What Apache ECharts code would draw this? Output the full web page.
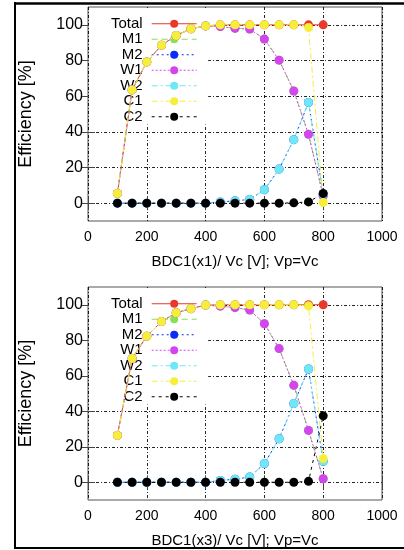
<!DOCTYPE html>
<html><head><meta charset="utf-8">
<script src="https://cdn.jsdelivr.net/npm/echarts@6/dist/echarts.min.js"></script>
<style>html,body{margin:0;padding:0;background:#fff}#c{width:404px;height:550px}</style>
</head><body><div id="c"></div>
<script>
const xValues = [100,150,200,250,300,350,400,450,500,550,600,650,700,750,800];
const seriesNames = ['Total','M1','M2','W1','W2','C1','C2'];
const yTickValues = [0,20,40,60,80,100];
const xAxisTitles = ['BDC1(x1)/ Vc [V]; Vp=Vc', 'BDC1(x3)/ Vc [V]; Vp=Vc'];
const yAxisTitle = 'Efficiency [%]';

// upper chart (x1)
const top_Total = [5.4,63.5,79.2,88.6,94,97.8,99.4,100,100,100,100,100,100,100,100];
const top_M1 = [5.4,63.5,79.2,88.6,94,97.8,99.4,99,98.1,97.6,92,80.2,62.9,38.6,4];
const top_M2 = [0,0,0,0,0,0,0,0.7,1.3,2.1,7.5,19.1,35.6,56.5,5];
const top_W1 = [5.4,63.5,79.2,88.6,94,97.8,99.4,99,98.1,97.6,92,80.2,62.9,38.6,4];
const top_W2 = [0,0,0,0,0,0,0,0.7,1.3,2.1,7.5,19.1,35.6,56.5,5];
const top_C1 = [5.4,63.5,79.2,88.6,94,97.8,99.4,100,100,100,100,100,100,98.5,0.4];
const top_C2 = [0,0,0,0,0,0,0,0,0,0,0,0,0.2,0.7,5.4];

// lower chart (x3)
const bot_Total = [26.4,69.7,82.3,90.5,95.5,97.8,99.8,100,100,100,100,100,100,100,100];
const bot_M1 = [26.4,69.7,82.3,90.5,95.5,97.8,99.8,99.2,98.4,97,89.3,75.3,54.6,29.2,2];
const bot_M2 = [0,0,0,0,0,0,0,1,1.7,3,10.5,24.5,44.3,63.8,11.8];
const bot_W1 = [26.4,69.7,82.3,90.5,95.5,97.8,99.8,99.2,98.4,97,89.3,75.3,54.6,29.2,2];
const bot_W2 = [0,0,0,0,0,0,0,1,1.7,3,10.5,24.5,44.3,63.8,11.8];
const bot_C1 = [26.4,69.7,82.3,90.5,95.5,97.8,99.8,100,100,100,100,100,100,99.4,13.3];
const bot_C2 = [0,0,0,0,0,0,0,0,0,0,0,0,0,0.5,37.4];

const topData = [top_Total, top_M1, top_M2, top_W1, top_W2, top_C1, top_C2];
const botData = [bot_Total, bot_M1, bot_M2, bot_W1, bot_W2, bot_C1, bot_C2];

const styles = {
  Total: {color:'#e8392b', type:'solid'},
  M1: {color:'#86e05c', type:[6,4]},
  M2: {color:'#0a2cf5', type:[2,3]},
  W1: {color:'#d445ef', type:[2,2]},
  W2: {color:'#6fe7f6', type:[6,3,2,3]},
  C1: {color:'#f5ef3a', type:[6,3,2,3]},
  C2: {color:'#000000', type:[3,4]}
};
const FONT = "'Liberation Sans', Arial, sans-serif";

function pairs(vals){ return xValues.map((x,i)=>[x, vals[i]]); }

const grids = [
  {left:88, top:7, width:294, height:214},
  {left:88, top:287, width:294, height:213}
];

const xAxes = [], yAxes = [], series = [], legends = [];
grids.forEach((g, gi) => {
  xAxes.push({
    gridIndex: gi, type:'value', min:0, max:1000, interval:200, position:'bottom', z:0,
    axisLine:{show:false},
    axisTick:{show:true, inside:true, length:7, lineStyle:{color:'#444'}},
    axisLabel:{fontSize:14, color:'#000', margin:9, fontFamily:FONT, formatter: v => String(v)},
    splitLine:{show:true, lineStyle:{color:'#000', width:1, type:[3,2,1,2], opacity:0.85}},
    name: xAxisTitles[gi], nameLocation:'middle', nameGap:33,
    nameTextStyle:{fontSize:15, color:'#000', fontFamily:FONT}
  });
  xAxes.push({
    gridIndex: gi, type:'value', min:0, max:1000, interval:200, position:'top', z:0,
    axisLine:{show:false},
    axisTick:{show:true, inside:true, length:7, lineStyle:{color:'#444'}},
    axisLabel:{show:false}, splitLine:{show:false}
  });
  yAxes.push({
    gridIndex: gi, type:'value', min:-10, max:110, position:'left', z:0,
    axisLine:{show:false},
    axisTick:{show:true, inside:true, length:7, lineStyle:{color:'#444'}, customValues: yTickValues},
    axisLabel:{fontSize:16, color:'#000', margin:5, fontFamily:FONT, customValues: yTickValues},
    splitLine:{show:true, lineStyle:{color:'#000', width:1, type:[3,2,1,2], opacity:0.85}},
    name: yAxisTitle, nameLocation:'middle', nameGap:53,
    nameTextStyle:{fontSize:18, color:'#000', fontFamily:FONT}
  });
  yAxes.push({
    gridIndex: gi, type:'value', min:-10, max:110, position:'right', z:0,
    axisLine:{show:false},
    axisTick:{show:true, inside:true, length:7, lineStyle:{color:'#444'}, customValues: yTickValues},
    axisLabel:{show:false}, splitLine:{show:false}
  });
  const data = gi === 0 ? topData : botData;
  seriesNames.forEach((n, si) => {
    const st = styles[n];
    series.push({
      name:n, type:'line', xAxisIndex: gi*2, yAxisIndex: gi*2, z: 5,
      data: pairs(data[si]), symbol:'circle', symbolSize:9, showSymbol:true,
      itemStyle:{color:st.color, borderWidth:0},
      lineStyle:{color:st.color, width:1, type:st.type},
      animation:false
    });
  });
  legends.push({
    orient:'vertical', left:89, top: g.top + 1, align:'right', z:3,
    backgroundColor:'#fff', padding:[8,11,0,22], itemGap:0,
    itemWidth:45, itemHeight:10, selectedMode:false,
    lineStyle:{width:1},
    data: seriesNames,
    textStyle:{fontSize:15, color:'#000', fontFamily:FONT, lineHeight:15.5, padding:[0,4,0,0]}
  });
});

const chart = echarts.init(document.getElementById('c'), null, {renderer:'canvas'});
chart.setOption({
  backgroundColor:'#fff',
  animation:false,
  grid: grids.map(g => Object.assign({show:true, borderColor:'#555', borderWidth:1, backgroundColor:'transparent', z:0}, g)),
  xAxis: xAxes,
  yAxis: yAxes,
  legend: legends,
  series: series,
  graphic: [
    {type:'line', shape:{x1:15, y1:2, x2:15, y2:549}, style:{stroke:'#000', lineWidth:2}, silent:true},
    {type:'line', shape:{x1:14, y1:3.5, x2:404, y2:3.5}, style:{stroke:'#000', lineWidth:2.5}, silent:true},
    {type:'line', shape:{x1:14, y1:548, x2:404, y2:548}, style:{stroke:'#000', lineWidth:2}, silent:true}
  ]
});
</script>
</body></html>
